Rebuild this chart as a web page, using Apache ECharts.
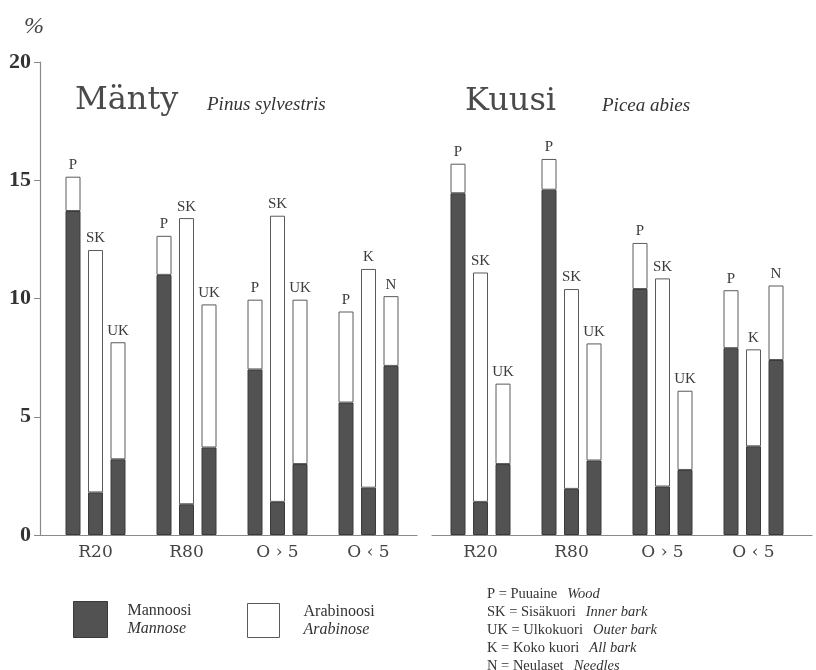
<!DOCTYPE html>
<html>
<head>
<meta charset="utf-8">
<script src="https://cdn.jsdelivr.net/npm/echarts@6/dist/echarts.min.js"></script>
<style>
  html, body { margin: 0; padding: 0; background: #fff; }
  #chart { width: 816px; height: 670px; }
</style>
</head>
<body>
<div id="chart"></div>
<script>
// Sample groups on the x axis
const categories = ['R20', 'R80', 'O \u203A 5', 'O \u2039 5'];

// Tissue codes printed above the three bars of each group
const labelsPos0 = ['P', 'P', 'P', 'P'];
const labelsPos1 = ['SK', 'SK', 'SK', 'K'];
const labelsPos2 = ['UK', 'UK', 'UK', 'N'];

// Mänty (Pinus sylvestris), % of dry matter
const pineMannosePos0 = [13.7, 11.0, 7.0, 5.6];
const pineArabinosePos0 = [1.45, 1.65, 2.95, 3.85];
const pineMannosePos1 = [1.8, 1.3, 1.4, 2.0];
const pineArabinosePos1 = [10.25, 12.1, 12.1, 9.25];
const pineMannosePos2 = [3.2, 3.7, 3.0, 7.15];
const pineArabinosePos2 = [4.95, 6.05, 6.95, 2.95];

// Kuusi (Picea abies), % of dry matter
const spruceMannosePos0 = [14.45, 14.6, 10.4, 7.9];
const spruceArabinosePos0 = [1.25, 1.3, 1.95, 2.45];
const spruceMannosePos1 = [1.4, 1.95, 2.05, 3.75];
const spruceArabinosePos1 = [9.7, 8.45, 8.8, 4.1];
const spruceMannosePos2 = [3.0, 3.15, 2.75, 7.4];
const spruceArabinosePos2 = [3.4, 4.95, 3.35, 3.15];

// Value axis
const yMin = 0, yMax = 20, yStep = 5;

const SERIF = "'Liberation Serif', 'Times New Roman', serif";
const WIDE_SERIF = "'DejaVu Serif', serif";
const DARK = '#525252';
const INK = '#3c3c3c';

const panelTop = 62, panelHeight = 473;

function stackPair(gridIdx, stackId, mannose, arabinose, codes) {
  return [
    {
      type: 'bar', name: 'Mannoosi', stack: stackId,
      xAxisIndex: gridIdx, yAxisIndex: gridIdx,
      barWidth: 15, barGap: '50%',
      data: mannose,
      itemStyle: { color: DARK, borderColor: '#3a3a3a', borderWidth: 1 },
      emphasis: { disabled: true }
    },
    {
      type: 'bar', name: 'Arabinoosi', stack: stackId,
      xAxisIndex: gridIdx, yAxisIndex: gridIdx,
      barWidth: 15, barGap: '50%',
      data: arabinose,
      itemStyle: { color: '#ffffff', borderColor: '#5a5a5a', borderWidth: 1 },
      label: {
        show: true, position: 'top', distance: 4,
        fontFamily: SERIF, fontSize: 15, color: INK,
        formatter: p => codes[p.dataIndex]
      },
      emphasis: { disabled: true }
    }
  ];
}

function frameAxes(gridIdx, showY) {
  return {
    x: {
      type: 'value', gridIndex: gridIdx, min: 0, max: 1,
      axisLine: { show: true, onZero: false, lineStyle: { color: '#8a8a8a', width: 1.2 } },
      axisTick: { show: false }, axisLabel: { show: false }, splitLine: { show: false }
    },
    y: {
      type: 'value', gridIndex: gridIdx, min: yMin, max: yMax, interval: yStep,
      show: showY,
      axisLine: { show: true, onZero: false, lineStyle: { color: '#8a8a8a', width: 1.2 } },
      axisTick: { show: true, length: 6, lineStyle: { color: '#8a8a8a' } },
      axisLabel: { margin: 9, fontFamily: SERIF, fontWeight: 'bold', fontSize: 22, color: '#333' },
      splitLine: { show: false }
    }
  };
}

function dataAxes(gridIdx) {
  return {
    x: {
      type: 'category', gridIndex: gridIdx, data: categories,
      axisLine: { show: false }, axisTick: { show: false },
      axisLabel: { margin: 9, fontFamily: WIDE_SERIF, fontSize: 17, color: '#444' }
    },
    y: {
      type: 'value', gridIndex: gridIdx, min: yMin, max: yMax, interval: yStep,
      show: false
    }
  };
}

const fL = frameAxes(0, true), dL = dataAxes(1), fR = frameAxes(2, false), dR = dataAxes(3);

const plain = { fontFamily: SERIF, fontSize: 16, fontWeight: 'normal', color: '#333', lineHeight: 18 };
const italic = Object.assign({}, plain, { fontStyle: 'italic' });
const keyPlain = Object.assign({}, plain, { fontSize: 14.5 });
const keyItalic = Object.assign({}, italic, { fontSize: 14.5 });

const option = {
  animation: false,
  backgroundColor: '#ffffff',
  grid: [
    { left: 40, top: panelTop, width: 377, height: panelHeight },
    { left: 50, top: panelTop, width: 364, height: panelHeight },
    { left: 432, top: panelTop, width: 380, height: panelHeight },
    { left: 435, top: panelTop, width: 364, height: panelHeight }
  ],
  xAxis: [fL.x, dL.x, fR.x, dR.x],
  yAxis: [fL.y, dL.y, fR.y, dR.y],
  title: [
    { text: '%', left: 19, top: 10, textStyle: { fontFamily: SERIF, fontStyle: 'italic', fontWeight: 'normal', fontSize: 24, color: '#444' } },
    { text: 'Mänty', left: 70, top: 80, textStyle: { fontFamily: WIDE_SERIF, fontWeight: 'normal', fontSize: 32, color: '#4a4a4a' } },
    { text: 'Pinus sylvestris', left: 202, top: 90, textStyle: { fontFamily: SERIF, fontStyle: 'italic', fontWeight: 'normal', fontSize: 19, color: '#333' } },
    { text: 'Kuusi', left: 460, top: 81, textStyle: { fontFamily: WIDE_SERIF, fontWeight: 'normal', fontSize: 32, color: '#4a4a4a' } },
    { text: 'Picea abies', left: 597, top: 91, textStyle: { fontFamily: SERIF, fontStyle: 'italic', fontWeight: 'normal', fontSize: 19, color: '#333' } },
    {
      text: [
        '{c|P = Puuaine}  {i|Wood}',
        '{c|SK = Sisäkuori}  {i|Inner bark}',
        '{c|UK = Ulkokuori}  {i|Outer bark}',
        '{c|K = Koko kuori}  {i|All bark}',
        '{c|N = Neulaset}  {i|Needles}'
      ].join('\n'),
      left: 487, top: 585, padding: 0,
      textStyle: { fontWeight: 'normal', rich: { c: keyPlain, i: keyItalic } }
    }
  ],
  legend: [
    {
      data: [{ name: 'Mannoosi', itemStyle: { color: DARK, borderColor: '#3a3a3a', borderWidth: 1 } }],
      left: 73, top: 601, itemWidth: 34, itemHeight: 36, icon: 'rect',
      selectedMode: false, padding: 0,
      formatter: () => '{a|Mannoosi}\n{b|Mannose}',
      textStyle: {
        rich: {
          a: Object.assign({}, plain, { padding: [0, 0, 0, 15] }),
          b: Object.assign({}, italic, { padding: [0, 0, 0, 15] })
        }
      }
    },
    {
      data: [{ name: 'Arabinoosi', itemStyle: { color: '#ffffff', borderColor: '#5a5a5a', borderWidth: 1 } }],
      left: 247, top: 603, itemWidth: 32, itemHeight: 34, icon: 'rect',
      selectedMode: false, padding: 0,
      formatter: () => '{a|Arabinoosi}\n{b|Arabinose}',
      textStyle: {
        rich: {
          a: Object.assign({}, plain, { padding: [0, 0, 0, 19] }),
          b: Object.assign({}, italic, { padding: [0, 0, 0, 19] })
        }
      }
    }
  ],
  series: [
    ...stackPair(1, 'pine0', pineMannosePos0, pineArabinosePos0, labelsPos0),
    ...stackPair(1, 'pine1', pineMannosePos1, pineArabinosePos1, labelsPos1),
    ...stackPair(1, 'pine2', pineMannosePos2, pineArabinosePos2, labelsPos2),
    ...stackPair(3, 'spruce0', spruceMannosePos0, spruceArabinosePos0, labelsPos0),
    ...stackPair(3, 'spruce1', spruceMannosePos1, spruceArabinosePos1, labelsPos1),
    ...stackPair(3, 'spruce2', spruceMannosePos2, spruceArabinosePos2, labelsPos2)
  ]
};

const chart = echarts.init(document.getElementById('chart'), null, { renderer: 'canvas' });
chart.setOption(option);
</script>
</body>
</html>
